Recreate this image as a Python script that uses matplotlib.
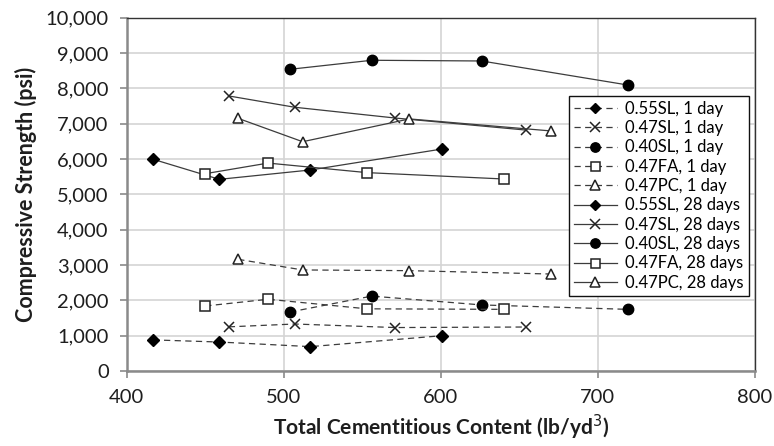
import matplotlib.pyplot as plt
from matplotlib.ticker import FuncFormatter, MultipleLocator

plt.rcParams['font.family'] = ['Lato', 'DejaVu Sans']

# Total cementitious content per mix (lb/yd3)
x_055sl = [417, 459, 517, 601]
x_047sl = [465, 507, 571, 654]
x_040sl = [504, 556, 626, 719]
x_047fa = [450, 490, 553, 640]
x_047pc = [471, 512, 580, 670]

# Compressive strength (psi), 1 day
d1_055sl = [880, 820, 690, 1000]
d1_047sl = [1250, 1330, 1230, 1245]
d1_040sl = [1670, 2120, 1870, 1745]
d1_047fa = [1840, 2030, 1760, 1745]
d1_047pc = [3160, 2860, 2840, 2745]

# Compressive strength (psi), 28 days
d28_055sl = [5990, 5425, 5690, 6285]
d28_047sl = [7785, 7465, 7160, 6820]
d28_040sl = [8540, 8795, 8775, 8095]
d28_047fa = [5585, 5885, 5615, 5435]
d28_047pc = [7150, 6490, 7135, 6795]

fig = plt.figure(figsize=(7.74, 4.46), dpi=100)
ax = fig.add_axes([126.7 / 774, 1 - 371 / 446, (755 - 126.7) / 774, (371 - 17.7) / 446])

lc = '#3c3c3c'
mixes = [
    ('0.55SL', x_055sl, d1_055sl, d28_055sl, dict(marker='D', ms=6, mfc='black', mec='black')),
    ('0.47SL', x_047sl, d1_047sl, d28_047sl, dict(marker='x', ms=7.5, mec='#222222', mew=1.1)),
    ('0.40SL', x_040sl, d1_040sl, d28_040sl, dict(marker='o', ms=7.5, mfc='black', mec='black')),
    ('0.47FA', x_047fa, d1_047fa, d28_047fa, dict(marker='s', ms=7.2, mfc='white', mec='#222222', mew=1.1)),
    ('0.47PC', x_047pc, d1_047pc, d28_047pc, dict(marker='^', ms=7.5, mfc='white', mec='#222222', mew=1.1)),
]

handles = []
for name, xs, d1, d28, mk in mixes:
    h, = ax.plot(xs, d1, color=lc, lw=0.9, ls=(0, (5, 3.5)), label=f'{name}, 1 day', **mk)
    handles.append(h)
for name, xs, d1, d28, mk in mixes:
    h, = ax.plot(xs, d28, color=lc, lw=0.9, ls='-', label=f'{name}, 28 days', **mk)
    handles.append(h)

ax.set_xlim(400, 800)
ax.set_ylim(0, 10000)
ax.xaxis.set_major_locator(MultipleLocator(100))
ax.yaxis.set_major_locator(MultipleLocator(1000))
ax.yaxis.set_major_formatter(FuncFormatter(lambda v, p: f'{int(v):,}'))
ax.grid(True, color='#d4d4d4', lw=1.2)
ax.set_axisbelow(True)

for s in ['top', 'right']:
    ax.spines[s].set_color('#333333')
    ax.spines[s].set_linewidth(1.0)
for s in ['left', 'bottom']:
    ax.spines[s].set_color('#8a8a8a')
    ax.spines[s].set_linewidth(1.8)

ax.tick_params(axis='both', labelsize=14.5, colors='#8a8a8a', labelcolor='#1e1e1e',
               length=5, width=1.2, pad=8)

ax.set_xlabel('Total Cementitious Content (lb/yd$^{3}$)', fontsize=15, fontweight='bold',
              color='#1e1e1e', labelpad=5)
ax.set_ylabel('Compressive Strength (psi)', fontsize=15.5, fontweight='bold',
              color='#1e1e1e', labelpad=6)

leg = ax.legend(handles=handles, loc='upper right', bbox_to_anchor=(0.990, 0.779),
                fontsize=12, frameon=True, fancybox=False, borderpad=0.3,
                labelspacing=0.2, handlelength=2.6, handletextpad=0.5,
                borderaxespad=0.0, markerscale=0.9)
leg.get_frame().set_edgecolor('#111111')
leg.get_frame().set_linewidth(1.0)
leg.get_frame().set_alpha(1.0)

fig.savefig('out.png', dpi=100)
